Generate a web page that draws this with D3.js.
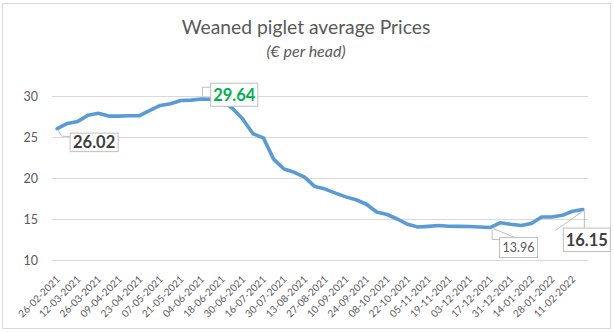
<!DOCTYPE html>
<html>
<head>
<meta charset="utf-8">
<script src="https://cdn.jsdelivr.net/npm/d3@7"></script>
<style>
  html, body { margin: 0; padding: 0; background: #fff; }
  svg { display: block; font-family: Lato, "Open Sans", sans-serif; }
</style>
</head>
<body>
<svg id="chart" width="614" height="332"></svg>
<script>
// Weekly weaned piglet prices, € per head
const dates = [
  "26-02-2021","05-03-2021","12-03-2021","19-03-2021","26-03-2021","02-04-2021",
  "09-04-2021","16-04-2021","23-04-2021","30-04-2021","07-05-2021","14-05-2021",
  "21-05-2021","28-05-2021","04-06-2021","11-06-2021","18-06-2021","25-06-2021",
  "30-06-2021","09-07-2021","16-07-2021","23-07-2021","30-07-2021","06-08-2021",
  "13-08-2021","20-08-2021","27-08-2021","03-09-2021","10-09-2021","17-09-2021",
  "24-09-2021","01-10-2021","08-10-2021","15-10-2021","22-10-2021","29-10-2021",
  "05-11-2021","12-11-2021","19-11-2021","26-11-2021","03-12-2021","10-12-2021",
  "17-12-2021","24-12-2021","31-12-2021","07-01-2022","14-01-2022","21-01-2022",
  "28-01-2022","04-02-2022","11-02-2022","18-02-2022"
];
const prices = [
  26.02, 26.65, 26.90, 27.65, 27.90, 27.55,
  27.55, 27.60, 27.60, 28.25, 28.85, 29.05,
  29.45, 29.50, 29.64, 29.60, 29.45, 28.50,
  27.20, 25.40, 24.90, 22.30, 21.10, 20.70,
  20.10, 18.95, 18.65, 18.15, 17.70, 17.35,
  16.80, 15.85, 15.55, 15.00, 14.35, 14.02,
  14.10, 14.20, 14.12, 14.10, 14.08, 14.02,
  13.96, 14.55, 14.35, 14.20, 14.45, 15.25,
  15.25, 15.45, 15.95, 16.15
];
const yTicks = [10, 15, 20, 25, 30];
// every second week carries a date label
const xTickLabels = dates.filter((d, i) => i % 2 === 0);
// start, maximum, minimum and latest price get a value label
const labelledIdx = [0, 14, 42, 51];

const title = "Weaned piglet average Prices";
const subtitle = "(€ per head)";

// ---- layout ----
const svg = d3.select("#chart");
const plot = { left: 52, right: 588, top: 96, bottom: 260 };
const textGrey = "#595959";

svg.append("rect")
  .attr("x", 2.5).attr("y", 3.5).attr("width", 608).attr("height", 325)
  .attr("fill", "#fff").attr("stroke", "#d9d9d9");

const x = d3.scalePoint().domain(dates).range([plot.left, plot.right]).padding(0.5);
const y = d3.scaleLinear().domain([10, 30]).range([plot.bottom, plot.top]);

// titles
svg.append("text").attr("x", 306).attr("y", 34).attr("text-anchor", "middle")
  .attr("font-size", 19.3).attr("fill", textGrey).text(title);
svg.append("text").attr("x", 306).attr("y", 57).attr("text-anchor", "middle")
  .attr("font-size", 16).attr("font-style", "italic").attr("fill", textGrey).text(subtitle);

// y axis: gridlines + labels
const yAxis = d3.axisLeft(y).tickValues(yTicks)
  .tickSize(-(plot.right - plot.left)).tickPadding(14);
const gy = svg.append("g").attr("transform", `translate(${plot.left},0)`).call(yAxis);
gy.select(".domain").remove();
gy.selectAll(".tick line").attr("stroke", "#d9d9d9");
gy.selectAll(".tick text").attr("fill", textGrey).attr("font-size", 12.5)
  .attr("font-family", "Lato, sans-serif");

// x axis: rotated date labels
const xAxis = d3.axisBottom(x).tickValues(xTickLabels).tickSize(0).tickPadding(0);
const gx = svg.append("g").attr("transform", `translate(0,${plot.bottom})`).call(xAxis);
gx.select(".domain").remove();
gx.selectAll(".tick text")
  .attr("font-size", 10).attr("font-family", "Lato, sans-serif").attr("fill", textGrey)
  .attr("text-anchor", "end").attr("dy", 0).attr("y", 0)
  .attr("transform", "translate(3,20) rotate(-45)");

// price line
const line = d3.line().x((d, i) => x(dates[i])).y(d => y(d));
svg.append("path").datum(prices)
  .attr("d", line).attr("fill", "none")
  .attr("stroke", "#5b9bd5").attr("stroke-width", 3.6)
  .attr("stroke-linejoin", "round").attr("stroke-linecap", "round");

// value callouts: box offsets relative to the point, plus leader lines
const calloutStyle = {
  0:  { dx: 13,   dy: 4.5,  w: 48, h: 18.5, size: 16.5, weight: "bold",   color: "#404040",
        leaders: [[[0.5, 1], [4.5, 7.5], [13, 8]]] },
  14: { dx: 9.3,  dy: -15.7, w: 47, h: 23,  size: 16.5, weight: "bold",   color: "#00b050",
        leaders: [[[1, -3], [1, -11.7], [9.3, -11.7]]] },
  42: { dx: 9.5,  dy: 10,   w: 38, h: 20,   size: 12.5, weight: "normal", color: textGrey,
        leaders: [[[2, 2], [2, 12], [9.5, 12]], [[3, 1], [25, 10]]] },
  51: { dx: -19.5, dy: 18.5, w: 47, h: 23.5, size: 16.5, weight: "bold",  color: "#404040",
        leaders: [[[1.5, 1.5], [1.5, 18.5]], [[0, 1.5], [-27.5, 21]]] }
};

const fmt = d3.format(".2f");
labelledIdx.forEach(i => {
  const px = x(dates[i]), py = y(prices[i]);
  const s = calloutStyle[i];
  const g = svg.append("g");
  s.leaders.forEach(pts => {
    g.append("polyline")
      .attr("points", pts.map(p => `${px + p[0]},${py + p[1]}`).join(" "))
      .attr("fill", "none").attr("stroke", "#bfbfbf").attr("stroke-width", 1);
  });
  g.append("rect")
    .attr("x", px + s.dx).attr("y", py + s.dy).attr("width", s.w).attr("height", s.h)
    .attr("fill", "#fff").attr("stroke", "#bfbfbf").attr("stroke-width", 1);
  g.append("text")
    .attr("x", px + s.dx + s.w / 2).attr("y", py + s.dy + s.h / 2)
    .attr("dy", "0.36em").attr("text-anchor", "middle")
    .attr("font-size", s.size).attr("font-weight", s.weight).attr("fill", s.color)
    .text(fmt(prices[i]));
});
</script>
</body>
</html>
